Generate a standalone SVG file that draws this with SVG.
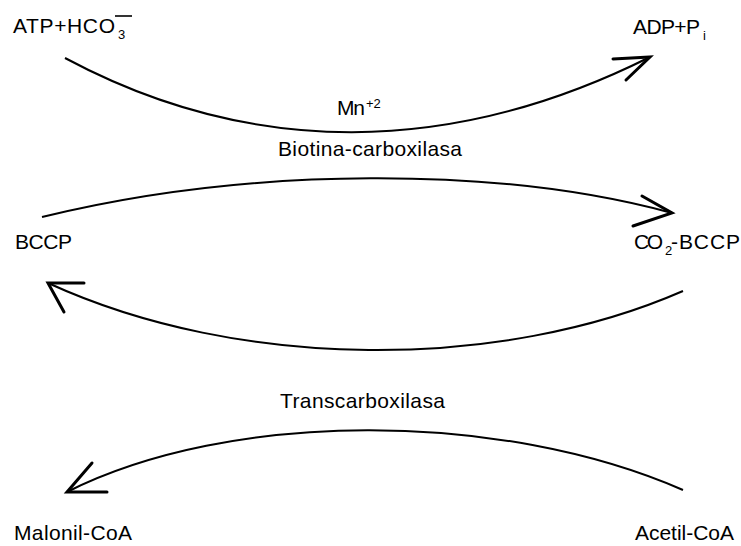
<svg xmlns="http://www.w3.org/2000/svg" width="741" height="546" viewBox="0 0 741 546">
  <style>
    .lbl { font-family: "Liberation Sans", Arial, sans-serif; font-size: 21px; fill: #000; }
    .sm { font-size: 13px; }
    .curve { fill: none; stroke: #000; stroke-width: 2; }
    .head { fill: none; stroke: #000; stroke-width: 3; stroke-linecap: round; stroke-linejoin: miter; }
  </style>
  <rect width="741" height="546" fill="#fff"/>

  <!-- species -->
  <g id="atp-hco3">
    <text class="lbl" x="13" y="33" textLength="102" lengthAdjust="spacing">ATP+HCO</text>
    <text class="lbl sm" x="118" y="39">3</text>
    <line x1="115" y1="16" x2="132" y2="16" stroke="#000" stroke-width="1.6"/>
  </g>
  <g id="adp-pi">
    <text class="lbl" x="633" y="34" textLength="67" lengthAdjust="spacing">ADP+P</text>
    <text class="lbl sm" x="703" y="40">i</text>
  </g>
  <g id="bccp">
    <text class="lbl" x="15" y="249" textLength="57" lengthAdjust="spacing">BCCP</text>
  </g>
  <g id="co2-bccp">
    <text class="lbl" x="634" y="249" textLength="29" lengthAdjust="spacing">CO</text>
    <text class="lbl sm" x="665" y="255">2</text>
    <text class="lbl" x="671" y="249" textLength="69" lengthAdjust="spacing">-BCCP</text>
  </g>
  <g id="malonil-coa">
    <text class="lbl" x="14" y="540" textLength="118" lengthAdjust="spacing">Malonil-CoA</text>
  </g>
  <g id="acetil-coa">
    <text class="lbl" x="635" y="540" textLength="99" lengthAdjust="spacing">Acetil-CoA</text>
  </g>

  <!-- enzymes / cofactors -->
  <g id="mn">
    <text class="lbl" x="337" y="115" textLength="28" lengthAdjust="spacing">Mn</text>
    <text class="lbl sm" x="366" y="108">+2</text>
  </g>
  <g id="biotina-carboxilasa">
    <text class="lbl" x="278" y="156" textLength="184" lengthAdjust="spacing">Biotina-carboxilasa</text>
  </g>
  <g id="transcarboxilasa">
    <text class="lbl" x="280" y="408" textLength="165" lengthAdjust="spacing">Transcarboxilasa</text>
  </g>

  <!-- reaction arrows -->
  <g id="connectors">
    <path class="curve" d="M65,58 C250,157 450,157 650,57"/>
    <polyline class="head" points="613,59 650,57 626,80"/>

    <path class="curve" d="M42,217 C250,166 500,166 672,213"/>
    <polyline class="head" points="642,196 672,213 633,226"/>

    <path class="curve" d="M683,291 C500,371 240,371 48,283"/>
    <polyline class="head" points="84,283 48,283 64,312"/>

    <path class="curve" d="M683,490 C500,410 230,410 67,492"/>
    <polyline class="head" points="107,492 67,492 92,463"/>
  </g>
</svg>
